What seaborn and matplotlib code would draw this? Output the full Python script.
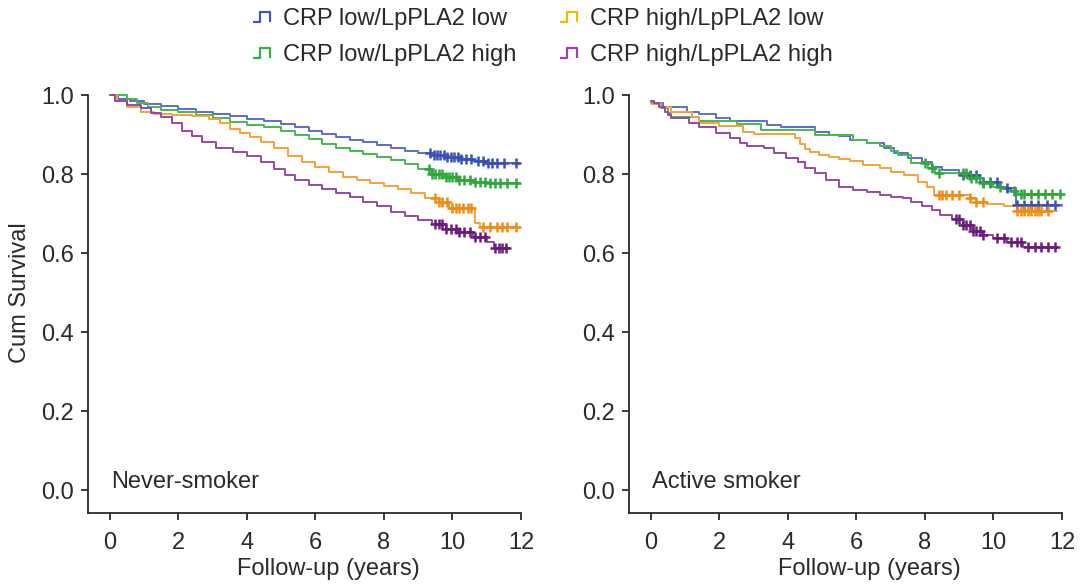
import numpy as np
import matplotlib
matplotlib.use("Agg")
import matplotlib.pyplot as plt
import seaborn as sns
from matplotlib.path import Path
from matplotlib.lines import Line2D

# Kaplan-Meier curves (time in years, cumulative survival)
groups = ["CRP low/LpPLA2 low", "CRP low/LpPLA2 high", "CRP high/LpPLA2 low", "CRP high/LpPLA2 high"]

# --- Never-smoker ---
never_blue_t = [0, 0.25, 0.6, 1.0, 1.5, 2.0, 2.5, 3.0, 3.5, 4.0, 4.5, 5.0, 5.4, 5.8, 6.2, 6.6, 7.0, 7.4, 7.8, 8.2, 8.6, 9.0, 9.4, 9.8, 10.2, 10.6, 11.0, 11.95]
never_blue_s = [1.0, 0.99, 0.985, 0.978, 0.972, 0.965, 0.958, 0.953, 0.946, 0.94, 0.934, 0.927, 0.918, 0.91, 0.902, 0.893, 0.886, 0.88, 0.873, 0.865, 0.858, 0.852, 0.847, 0.842, 0.837, 0.832, 0.828, 0.826]
never_green_t = [0, 0.5, 0.8, 1.1, 1.5, 2.0, 2.5, 3.0, 3.5, 4.0, 4.5, 5.0, 5.4, 5.8, 6.2, 6.6, 7.0, 7.4, 7.8, 8.2, 8.6, 9.0, 9.4, 9.8, 10.2, 10.6, 11.0, 11.95]
never_green_s = [1.0, 0.99, 0.98, 0.97, 0.962, 0.956, 0.95, 0.942, 0.932, 0.925, 0.918, 0.908, 0.898, 0.888, 0.877, 0.866, 0.858, 0.85, 0.843, 0.835, 0.825, 0.813, 0.8, 0.792, 0.786, 0.779, 0.776, 0.775]
never_orange_t = [0, 0.2, 0.5, 0.9, 1.3, 1.8, 2.4, 2.9, 3.2, 3.5, 3.8, 4.1, 4.4, 4.8, 5.2, 5.6, 6.0, 6.4, 6.8, 7.2, 7.6, 8.0, 8.4, 8.8, 9.2, 9.6, 9.9, 10.66, 10.8, 11.95]
never_orange_s = [1.0, 0.985, 0.97, 0.958, 0.953, 0.95, 0.946, 0.94, 0.928, 0.915, 0.904, 0.894, 0.882, 0.866, 0.845, 0.83, 0.818, 0.805, 0.793, 0.785, 0.776, 0.77, 0.762, 0.752, 0.74, 0.728, 0.714, 0.675, 0.667, 0.667]
never_purple_t = [0, 0.15, 0.5, 0.9, 1.2, 1.5, 1.8, 2.1, 2.4, 2.7, 3.1, 3.6, 4.0, 4.4, 4.8, 5.1, 5.4, 5.8, 6.2, 6.6, 7.0, 7.4, 7.8, 8.2, 8.6, 9.0, 9.4, 9.8, 10.2, 10.6, 11.0, 11.2, 11.65]
never_purple_s = [1.0, 0.985, 0.975, 0.968, 0.955, 0.945, 0.93, 0.91, 0.895, 0.88, 0.866, 0.855, 0.845, 0.83, 0.812, 0.798, 0.785, 0.772, 0.762, 0.752, 0.742, 0.73, 0.718, 0.705, 0.695, 0.684, 0.674, 0.662, 0.652, 0.64, 0.628, 0.612, 0.612]

never_blue_cens = [9.35, 9.45, 9.55, 9.65, 9.75, 9.85, 9.95, 10.05, 10.15, 10.25, 10.4, 10.55, 10.75, 10.9, 11.05, 11.15, 11.3, 11.5, 11.85]
never_green_cens = [9.3, 9.4, 9.5, 9.6, 9.7, 9.8, 9.9, 10.0, 10.1, 10.2, 10.35, 10.5, 10.65, 10.8, 10.95, 11.1, 11.25, 11.4, 11.6, 11.85]
never_orange_cens = [9.5, 9.6, 9.7, 9.85, 10.0, 10.1, 10.2, 10.3, 10.45, 10.55, 10.9, 11.1, 11.3, 11.45, 11.6, 11.85]
never_purple_cens = [9.5, 9.6, 9.7, 9.8, 9.95, 10.1, 10.2, 10.35, 10.5, 10.65, 10.8, 10.95, 11.25, 11.35, 11.45, 11.55]

# --- Active smoker ---
active_blue_t = [0, 0.1, 0.35, 1.05, 1.4, 1.9, 2.3, 3.4, 3.8, 4.8, 5.2, 5.5, 5.8, 6.3, 6.8, 7.1, 7.5, 7.9, 8.2, 8.5, 9.0, 9.6, 10.2, 10.65, 12.0]
active_blue_s = [0.985, 0.98, 0.97, 0.958, 0.951, 0.943, 0.935, 0.924, 0.92, 0.907, 0.899, 0.895, 0.886, 0.878, 0.865, 0.853, 0.84, 0.831, 0.819, 0.81, 0.797, 0.78, 0.764, 0.722, 0.72]
active_green_t = [0, 0.3, 0.5, 0.6, 1.4, 2.5, 3.2, 4.8, 5.9, 6.3, 6.7, 7.0, 7.2, 7.6, 8.1, 8.3, 9.3, 9.7, 10.0, 10.4, 10.7, 12.0]
active_green_s = [0.98, 0.966, 0.955, 0.945, 0.935, 0.927, 0.912, 0.9, 0.887, 0.878, 0.87, 0.858, 0.848, 0.827, 0.815, 0.802, 0.79, 0.778, 0.768, 0.758, 0.75, 0.747]
active_orange_t = [0, 0.3, 0.6, 1.2, 1.4, 2.0, 2.7, 3.0, 4.2, 4.35, 4.5, 4.65, 4.9, 5.2, 5.5, 5.8, 6.2, 6.7, 7.0, 7.4, 7.8, 8.05, 8.25, 9.3, 9.5, 9.8, 10.3, 10.7, 11.85]
active_orange_s = [0.976, 0.97, 0.958, 0.945, 0.93, 0.921, 0.907, 0.901, 0.89, 0.876, 0.864, 0.856, 0.848, 0.843, 0.838, 0.832, 0.823, 0.816, 0.806, 0.797, 0.781, 0.768, 0.747, 0.74, 0.73, 0.725, 0.72, 0.707, 0.707]
active_purple_t = [0, 0.1, 0.25, 0.4, 0.5, 0.6, 1.1, 1.4, 1.9, 2.3, 2.6, 2.8, 3.3, 3.6, 3.95, 4.3, 4.5, 4.8, 5.1, 5.5, 5.9, 6.3, 6.7, 7.0, 7.36, 7.6, 7.9, 8.2, 8.45, 8.8, 9.1, 9.4, 9.7, 10.0, 10.4, 10.85, 11.85]
active_purple_s = [0.985, 0.98, 0.97, 0.958, 0.949, 0.941, 0.928, 0.92, 0.903, 0.89, 0.878, 0.87, 0.866, 0.853, 0.84, 0.831, 0.815, 0.802, 0.785, 0.768, 0.76, 0.755, 0.747, 0.743, 0.739, 0.728, 0.72, 0.709, 0.696, 0.685, 0.67, 0.655, 0.645, 0.638, 0.628, 0.616, 0.612]

active_blue_cens = [9.1, 9.3, 9.5, 9.7, 9.9, 10.1, 10.4, 10.7, 10.9, 11.1, 11.3, 11.55, 11.8]
active_green_cens = [8.0, 8.2, 8.4, 9.1, 9.2, 9.35, 9.5, 9.7, 9.9, 10.2, 10.6, 10.8, 10.9, 11.1, 11.3, 11.5, 11.7, 11.95]
active_orange_cens = [8.4, 8.5, 8.6, 8.8, 9.0, 9.3, 9.5, 9.7, 10.7, 10.8, 10.9, 11.0, 11.1, 11.2, 11.3, 11.4, 11.6]
active_purple_cens = [8.9, 9.0, 9.1, 9.2, 9.3, 9.4, 9.5, 9.6, 9.7, 10.1, 10.3, 10.5, 10.7, 10.8, 11.0, 11.2, 11.4, 11.6, 11.8]

line_colors = ["#5b6dcc", "#46b94f", "#f5a23a", "#9848a8"]
cens_colors = ["#3a4fb8", "#2ea83a", "#f08c14", "#6a1c7e"]
legend_colors = ["#4252c0", "#32b042", "#f5b800", "#a040b0"]

panels = [
    ("Never-smoker",
     [(never_blue_t, never_blue_s, never_blue_cens),
      (never_green_t, never_green_s, never_green_cens),
      (never_orange_t, never_orange_s, never_orange_cens),
      (never_purple_t, never_purple_s, never_purple_cens)]),
    ("Active smoker",
     [(active_blue_t, active_blue_s, active_blue_cens),
      (active_green_t, active_green_s, active_green_cens),
      (active_orange_t, active_orange_s, active_orange_cens),
      (active_purple_t, active_purple_s, active_purple_cens)]),
]

sns.set_style("white")
plt.rcParams['font.family'] = ['Liberation Sans', 'DejaVu Sans']
FS = 17
TXT = "#2a2a2a"

fig = plt.figure(figsize=(10.84, 5.85), dpi=100)
W, H = 1084, 585
ax_left_px = [88, 629]
ax_w = 433
ax_top, ax_bot = 95, 513

def step_value(t, s, x):
    i = np.searchsorted(np.asarray(t), x, side="right") - 1
    return np.asarray(s)[i]

for k, (title, curves) in enumerate(panels):
    ax = fig.add_axes([ax_left_px[k] / W, (H - ax_bot) / H, ax_w / W, (ax_bot - ax_top) / H])
    for (t, s, cens), lc, cc in zip(curves, line_colors, cens_colors):
        sns.lineplot(x=t, y=s, drawstyle="steps-post", color=lc, lw=1.4, ax=ax,
                     estimator=None, sort=False)
        cy = [step_value(t, s, c) for c in cens]
        sns.scatterplot(x=cens, y=cy, marker="+", s=45, color=cc, linewidth=1.8, ax=ax, zorder=3)
    for l in ax.lines:
        l.set_clip_on(False)
    for c in ax.collections:
        c.set_clip_on(False)

    ax.set_xlim(-0.64, 12)
    ax.set_ylim(-0.058, 1.0)
    ax.set_xticks(range(0, 13, 2))
    ax.set_yticks([0.0, 0.2, 0.4, 0.6, 0.8, 1.0])
    ax.set_yticklabels(["0.0", "0.2", "0.4", "0.6", "0.8", "1.0"])
    ax.spines["top"].set_visible(False)
    ax.spines["right"].set_visible(False)
    for sp in ["left", "bottom"]:
        ax.spines[sp].set_color("#2b2b2b")
        ax.spines[sp].set_linewidth(1.3)
    ax.tick_params(bottom=True, left=True, direction="out", length=5, width=1.3, color="#2b2b2b",
                   labelsize=FS, labelcolor=TXT, pad=5)
    ax.tick_params(axis="x", pad=9)
    ax.set_xlabel("")
    ax.set_ylabel("")
    ax.text(0.555, -0.135, "Follow-up (years)", transform=ax.transAxes, ha="center", va="center",
            fontsize=FS, color=TXT)
    ax.text(0.04, 0.02, title, ha="left", va="center", fontsize=FS, color=TXT)

fig.text(20 / W, 0.5, "Cum Survival", rotation=90, ha="center", va="center", fontsize=FS, color=TXT)

# step-shaped legend glyphs
glyph = Path([(-1.0, -0.5), (-0.25, -0.5), (-0.25, 0.5), (0.7, 0.5), (0.7, -0.5)],
             [Path.MOVETO, Path.LINETO, Path.LINETO, Path.LINETO, Path.LINETO])
handles = [Line2D([], [], linestyle="none", marker=glyph, markersize=15, markerfacecolor="none",
                  markeredgecolor=c, markeredgewidth=1.6) for c in legend_colors]
fig.legend(handles, groups, loc="center", bbox_to_anchor=(0.5, 0.937), ncol=2, frameon=False,
           fontsize=FS, handlelength=1.0, handletextpad=0.35, columnspacing=1.8, labelspacing=0.6,
           labelcolor=TXT)

fig.savefig("out.png", dpi=100)
